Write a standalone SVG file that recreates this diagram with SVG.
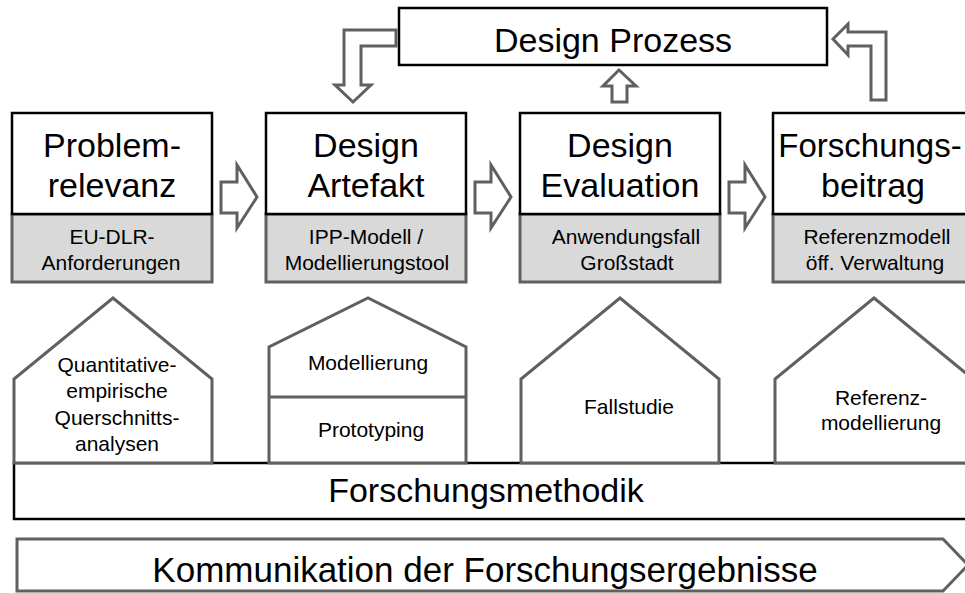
<svg xmlns="http://www.w3.org/2000/svg" width="965" height="593" viewBox="0 0 965 593">
<style>
text{font-family:"Liberation Sans",Arial,sans-serif;fill:#000;text-anchor:middle}
.big{font-size:34px}
.sm{font-size:21px}
.head{fill:#fff;stroke:#000;stroke-width:2.5}
.sub{fill:#d9d9d9;stroke:#606060;stroke-width:3}
.house{fill:#fff;stroke:#606060;stroke-width:3;stroke-linejoin:miter}
.arr{fill:#fff;stroke:#606060;stroke-width:3;stroke-linejoin:miter}
</style>
<rect width="965" height="593" fill="#fff"/>

<g id="design-prozess">
<rect x="399" y="8" width="428" height="57" fill="#fff" stroke="#000" stroke-width="2.5"/>
<text class="big" x="613" y="52">Design Prozess</text>
</g>

<g id="problemrelevanz">
<rect class="sub" x="12" y="214" width="200" height="68"/>
<rect class="head" x="12" y="113" width="200" height="101"/>
<text class="big" x="112" y="157">Problem-</text>
<text class="big" x="112" y="197">relevanz</text>
<text class="sm" x="112" y="244">EU-DLR-</text>
<text class="sm" x="111" y="270">Anforderungen</text>
</g>

<g id="design-artefakt">
<rect class="sub" x="266" y="214" width="200" height="68"/>
<rect class="head" x="266" y="113" width="200" height="101"/>
<text class="big" x="366" y="157">Design</text>
<text class="big" x="366" y="197">Artefakt</text>
<text class="sm" x="366" y="244">IPP-Modell /</text>
<text class="sm" x="367" y="270">Modellierungstool</text>
</g>

<g id="design-evaluation">
<rect class="sub" x="520" y="214" width="200" height="68"/>
<rect class="head" x="520" y="113" width="200" height="101"/>
<text class="big" x="620" y="157">Design</text>
<text class="big" x="620" y="197">Evaluation</text>
<text class="sm" x="626" y="244">Anwendungsfall</text>
<text class="sm" x="627" y="270">Großstadt</text>
</g>

<g id="forschungsbeitrag">
<rect class="sub" x="773" y="214" width="200" height="68"/>
<rect class="head" x="773" y="113" width="200" height="101"/>
<text x="870" y="157" style="font-size:33px">Forschungs-</text>
<text class="big" x="873" y="197">beitrag</text>
<text class="sm" x="877" y="244">Referenzmodell</text>
<text class="sm" x="875" y="270">öff. Verwaltung</text>
</g>

<g id="forschungsmethodik">
<path d="M965 463 H14 V519 H965" fill="#fff" stroke="#000" stroke-width="2.5"/>
<text class="big" x="486" y="502">Forschungsmethodik</text>
</g>

<g id="quantitative">
<path class="house" d="M14 463 V379 L113 298 L212 379 V463 Z"/>
<text class="sm" x="117" y="372">Quantitative-</text>
<text class="sm" x="117" y="398">empirische</text>
<text class="sm" x="117" y="425">Querschnitts-</text>
<text class="sm" x="117" y="451">analysen</text>
</g>

<g id="modellierung-prototyping">
<path class="house" d="M269 463 V347 L368 298 L466 347 V463 Z"/>
<line x1="269" y1="397" x2="466" y2="397" stroke="#606060" stroke-width="3"/>
<text class="sm" x="368" y="370">Modellierung</text>
<text class="sm" x="371" y="437">Prototyping</text>
</g>

<g id="fallstudie">
<path class="house" d="M521 463 V379 L620 298 L719 379 V463 Z"/>
<text class="sm" x="629" y="414">Fallstudie</text>
</g>

<g id="referenzmodellierung">
<path class="house" d="M775 463 V379 L874 298 L973 379 V463 Z"/>
<text class="sm" x="881" y="405">Referenz-</text>
<text class="sm" x="881" y="430">modellierung</text>
</g>

<g id="kommunikation">
<path class="arr" d="M17 539 H943 L968 565 L943 591 H17 Z"/>
<text x="485" y="582" style="font-size:35px">Kommunikation der Forschungsergebnisse</text>
</g>

<g id="connectors">
<path class="arr" d="M221 182 H237 V165 L257 197 L237 228 V213 H221 Z"/>
<path class="arr" d="M475 182 H491 V165 L511 197 L491 228 V213 H475 Z"/>
<path class="arr" d="M729 182 H745 V165 L765 197 L745 228 V213 H729 Z"/>
<path class="arr" d="M396 30 H344 V85 H335 L353 102 L371 85 H361 V46 H396 Z"/>
<path class="arr" d="M619 70 L603 86 H612 V102 H627 V86 H636 Z"/>
<path class="arr" d="M833 39 L848 24 V32 H886 V100 H871 V46 H848 V55 Z"/>
</g>
</svg>
